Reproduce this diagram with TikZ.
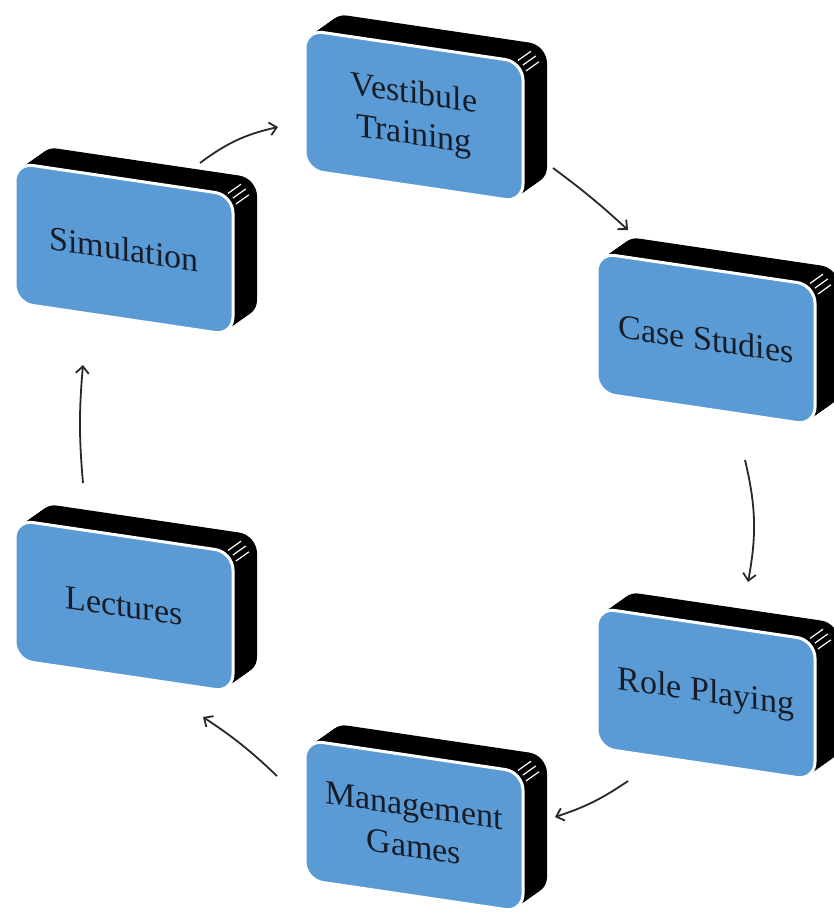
\documentclass[tikz,border=0pt]{standalone}
\usepackage{fontspec}
\setmainfont{Liberation Serif}
\usetikzlibrary{arrows.meta,calc}

\definecolor{facefill}{RGB}{91,155,213}
\definecolor{labelink}{RGB}{22,28,40}
\definecolor{linkgray}{RGB}{40,40,40}

\tikzset{
  face/.style={fill=facefill, draw=white, line width=3pt, rounded corners=18pt,
    minimum width=218pt, minimum height=140pt, inner sep=0pt, align=center,
    text=labelink, font=\fontsize{34}{41}\selectfont, transform shape},
  link/.style={draw=linkgray, line width=1.8pt,
    -{Straight Barb[length=7pt,width=13pt,line width=1.8pt]}},
}

% A slanted block: black extruded body, page edges at the corner, blue front face
\newcommand{\stackbox}[4]{%
  \begin{scope}[cm={1,-0.148,0,1,(#2,#3)}]
    \foreach \k in {1,...,24}{
      \fill[black, rounded corners=18pt] (-109+\k,-70-0.854*\k) rectangle (109+\k,70-0.854*\k);
    }
    \foreach \a in {20,40,60}{
      \draw[white, line width=1.2pt] ({91+18*cos(\a)+4},{-52-18*sin(\a)-3.4}) -- ++(13,-11.1);
    }
    \node[face] (#1) at (0,0) {#4};
  \end{scope}}

\begin{document}
\begin{tikzpicture}[x=1pt,y=-1pt]
  \fill[white] (0,0) rectangle (834,913);
  \useasboundingbox (0,0) rectangle (834,913);

  \stackbox{vt}{414}{116}{Vestibule\\Training}
  \stackbox{sim}{124}{249}{Simulation}
  \stackbox{cs}{706}{339}{Case Studies}
  \stackbox{rp}{706}{694}{Role Playing}
  \stackbox{mg}{414}{826}{Management\\Games}
  \stackbox{lec}{124}{606}{Lectures}

  \draw[link] ($(sim.center)+(76,-86)$) to[bend left=12] ($(vt.center)+(-136,11)$);
  \draw[link] ($(vt.center)+(139,52)$) to[bend left=3] ($(cs.center)+(-78,-109)$);
  \draw[link] ($(cs.center)+(39,121)$) to[bend left=12] ($(rp.center)+(42,-112)$);
  \draw[link] ($(rp.center)+(-78,87)$) to[bend left=8] ($(mg.center)+(141,-9)$);
  \draw[link] ($(mg.center)+(-137,-50)$) to[bend right=5] ($(lec.center)+(79,111)$);
  \draw[link] ($(lec.center)+(-41,-123)$) to[bend left=5] ($(sim.center)+(-41,116)$);
\end{tikzpicture}
\end{document}
